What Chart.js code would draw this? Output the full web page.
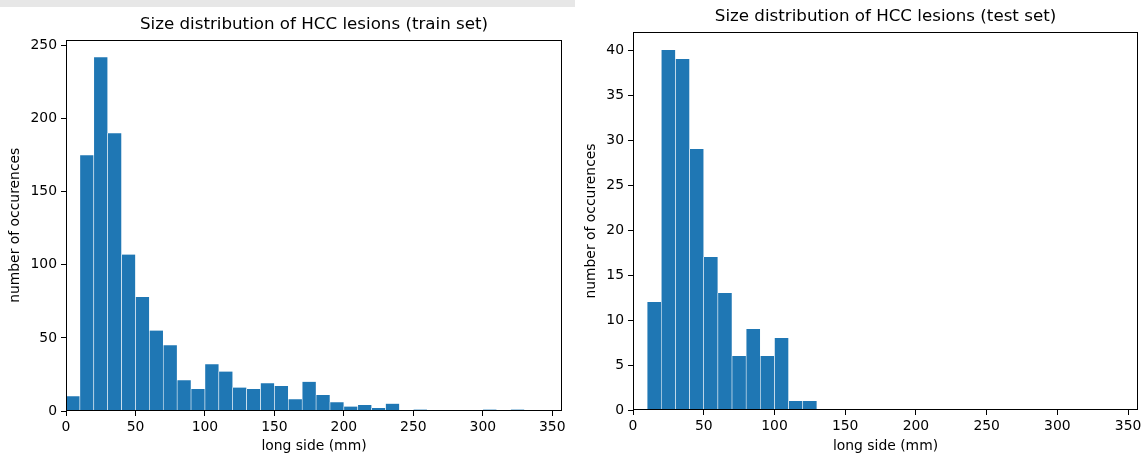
<!DOCTYPE html>
<html>
<head>
<meta charset="utf-8">
<style>
  body { margin: 0; background: #fff; width: 1148px; height: 464px; overflow: hidden; position: relative; }
  #bar { position: absolute; left: 0; top: 0; width: 575px; height: 7px; background: #e7e7e7; z-index: 2; }
  #trainChart { position: absolute; left: 0; top: 0; }
  #testChart { position: absolute; left: 575px; top: 0; }
</style>
</head>
<body>
<div id="bar"></div>
<canvas id="trainChart" width="575" height="464"></canvas>
<canvas id="testChart" width="573" height="464"></canvas>
<script src="https://cdn.jsdelivr.net/npm/chart.js@4.4.1/dist/chart.umd.min.js"></script>
<script>
// histogram bins are 10 mm wide, values are counts per bin
const trainBinStart = [0, 10, 20, 30, 40, 50, 60, 70, 80, 90, 100, 110, 120, 130, 140, 150,
    160, 170, 180, 190, 200, 210, 220, 230, 240, 250, 260, 270, 280, 290, 300, 310, 320];
const trainCounts = [10, 175, 242, 190, 107, 78, 55, 45, 21, 15, 32, 27, 16, 15, 19, 17,
    8, 20, 11, 6, 3, 4, 2, 5, 0, 1, 0, 0, 0, 0, 1, 0, 1];

const testBinStart = [0, 10, 20, 30, 40, 50, 60, 70, 80, 90, 100, 110, 120];
const testCounts = [0, 12, 40, 39, 29, 17, 13, 6, 9, 6, 8, 1, 1];

const xTicks = [0, 50, 100, 150, 200, 250, 300, 350];
const trainYTicks = [0, 50, 100, 150, 200, 250];
const testYTicks = [0, 5, 10, 15, 20, 25, 30, 35, 40];

const binWidth = 10;
const xMax = 357;
const blue = '#1f77b4';

Chart.defaults.font.family = '"DejaVu Sans", sans-serif';
Chart.defaults.color = '#000';

const boxPlugin = {
    id: 'box',
    afterDraw(chart) {
        const a = chart.chartArea;
        const ctx = chart.ctx;
        ctx.save();
        ctx.strokeStyle = '#000';
        ctx.lineWidth = 1;
        const l = Math.round(a.left) + 0.5, t = Math.round(a.top) + 0.5;
        const r = Math.round(a.right) - 0.5, b = Math.round(a.bottom) - 0.5;
        ctx.strokeRect(l, t, r - l, b - t);
        ctx.restore();
    }
};

function makeHist(id, title, binStart, counts, yMax, yTicks, lay) {
    // zero-count bins are left out so no white stubs are drawn on the axis
    const points = binStart.map((s, i) => ({ x: s + binWidth / 2, y: counts[i] === 0 ? null : counts[i] }));
    return new Chart(document.getElementById(id), {
        type: 'bar',
        data: {
            datasets: [{
                data: points,
                backgroundColor: blue,
                borderColor: 'rgba(255,255,255,0.9)',
                borderWidth: { left: 0.6, right: 0.6, top: 0.3, bottom: 0 },
                borderSkipped: false,
                barPercentage: 1,
                categoryPercentage: 1
            }]
        },
        options: {
            responsive: false,
            animation: false,
            layout: { padding: { left: 0, right: lay.right, top: lay.top, bottom: 0 } },
            plugins: {
                legend: { display: false },
                tooltip: { enabled: false },
                title: {
                    display: true,
                    text: title,
                    fullSize: false,
                    font: { size: 16.7, weight: 'normal' },
                    padding: { top: 0, bottom: lay.titleGap }
                }
            },
            scales: {
                x: {
                    type: 'linear',
                    min: 0,
                    max: xMax,
                    offset: false,
                    grid: { offset: false, drawOnChartArea: false, drawTicks: true, tickLength: 5, color: '#000' },
                    border: { display: false },
                    afterBuildTicks: s => { s.ticks = xTicks.map(v => ({ value: v })); },
                    afterFit: s => { s.height = lay.xHeight; },
                    ticks: { font: { size: 13.9 }, padding: 3, maxRotation: 0 },
                    title: { display: true, text: 'long side (mm)', font: { size: 13.9 }, padding: { top: 0, bottom: 9.5 } }
                },
                y: {
                    min: 0,
                    max: yMax,
                    grid: { drawOnChartArea: false, drawTicks: true, tickLength: 5, color: '#000' },
                    border: { display: false },
                    afterBuildTicks: s => { s.ticks = yTicks.map(v => ({ value: v })); },
                    afterFit: s => { s.width = lay.yWidth; },
                    ticks: { font: { size: 13.9 }, padding: 4 },
                    title: { display: true, text: 'number of occurences', font: { size: 13.9 }, padding: { top: lay.yTitlePad, bottom: 0 } }
                }
            }
        },
        plugins: [boxPlugin]
    });
}

makeHist('trainChart', 'Size distribution of HCC lesions (train set)', trainBinStart, trainCounts, 254.1, trainYTicks,
    { right: 13, top: 15, titleGap: 4.5, xHeight: 53, yWidth: 66, yTitlePad: 7.5 });
makeHist('testChart', 'Size distribution of HCC lesions (test set)', testBinStart, testCounts, 42, testYTicks,
    { right: 10, top: 7, titleGap: 5, xHeight: 54, yWidth: 58, yTitlePad: 8.5 });
</script>
</body>
</html>
